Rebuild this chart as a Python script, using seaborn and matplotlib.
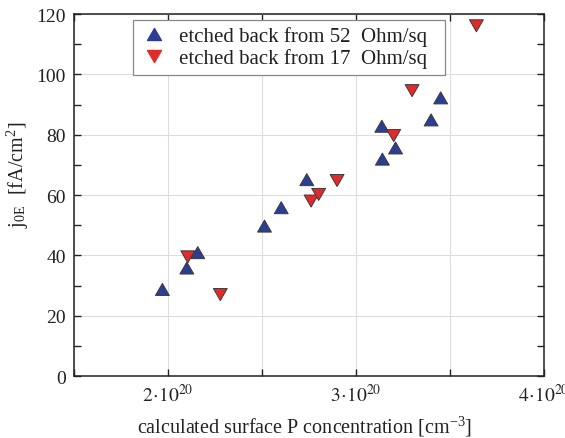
import matplotlib
matplotlib.use("Agg")
import matplotlib.pyplot as plt
from matplotlib.path import Path
from matplotlib.ticker import MultipleLocator, FuncFormatter
import seaborn as sns
import pandas as pd

# Surface concentration [cm^-3] and emitter saturation current density [fA/cm^2]
conc_52 = [1.97e20, 2.10e20, 2.158e20, 2.513e20, 2.602e20, 2.738e20,
           3.137e20, 3.140e20, 3.210e20, 3.399e20, 3.450e20]
j0e_52 = [28.7, 35.8, 40.9, 49.7, 55.8, 65.1, 82.8, 71.9, 75.6, 84.9, 92.2]

conc_17 = [2.105e20, 2.278e20, 2.761e20, 2.801e20, 2.899e20, 3.200e20,
           3.298e20, 3.640e20]
j0e_17 = [39.5, 27.0, 58.0, 60.2, 64.8, 79.7, 94.6, 116.1]

label_52 = "etched back from 52  Ohm/sq"
label_17 = "etched back from 17  Ohm/sq"

df = pd.concat([
    pd.DataFrame({"conc": conc_52, "j0e": j0e_52, "series": label_52}),
    pd.DataFrame({"conc": conc_17, "j0e": j0e_17, "series": label_17}),
], ignore_index=True)

sns.set_theme(style="white")
plt.rcParams["font.family"] = ["Liberation Serif", "DejaVu Serif"]
plt.rcParams["mathtext.fontset"] = "stix"

# equilateral triangles, pointing up and down
h = 0.866
tri_up = Path([(-1, -h), (1, -h), (0, h), (-1, -h)],
              [Path.MOVETO, Path.LINETO, Path.LINETO, Path.CLOSEPOLY])
tri_down = Path([(-1, h), (1, h), (0, -h), (-1, h)],
                [Path.MOVETO, Path.LINETO, Path.LINETO, Path.CLOSEPOLY])

fig = plt.figure(figsize=(5.65, 4.39), dpi=100)
ax = fig.add_axes([0.131, 0.1412, 0.832, 0.8246])

palette = {label_52: "#2c3d94", label_17: "#e22a2b"}
markers = {label_52: tri_up, label_17: tri_down}
sns.scatterplot(data=df, x="conc", y="j0e", hue="series", style="series",
                palette=palette, markers=markers, s=100, edgecolor="#3a3a3a",
                linewidth=0.7, ax=ax, zorder=3, legend=False)

ax.set_xlim(1.5e20, 4.0e20)
ax.set_ylim(0, 120)
ax.xaxis.set_major_locator(MultipleLocator(0.5e20))
ax.yaxis.set_major_locator(MultipleLocator(20))
ax.yaxis.set_minor_locator(MultipleLocator(10))


def conc_fmt(v, pos):
    n = v / 1e20
    if abs(n - round(n)) < 1e-6:
        return r"$%d\!\cdot\!10^{20}$" % round(n)
    return ""


ax.xaxis.set_major_formatter(FuncFormatter(conc_fmt))
ax.tick_params(axis="both", which="both", direction="in", top=True, right=True,
               bottom=True, left=True, length=5, width=1.0, color="#222222",
               labelsize=14, labelcolor="#222222", pad=6)
ax.tick_params(axis="x", which="major", pad=5)
ax.grid(True, which="major", color="#dddddd", linewidth=0.8, zorder=0)
for sp in ax.spines.values():
    sp.set_color("#222222")
    sp.set_linewidth(1.1)

ax.set_xlabel(r"calculated surface P concentration [cm$^{\mathregular{-3}}$]",
              fontsize=14.5, color="#222222")
ax.xaxis.set_label_coords(0.49, -0.105)
ax.set_ylabel(r"j$_{\mathregular{0E}}$  [fA/cm$^{\mathregular{2}}$]",
              fontsize=14.5, color="#222222")
ax.yaxis.set_label_coords(-0.091, 0.558)

handles = [
    plt.Line2D([], [], marker=tri_up, linestyle="none", markersize=10,
               markerfacecolor=palette[label_52], markeredgecolor=palette[label_52]),
    plt.Line2D([], [], marker=tri_down, linestyle="none", markersize=10,
               markerfacecolor=palette[label_17], markeredgecolor=palette[label_17]),
]
leg = ax.legend(handles, [label_52, label_17], loc="upper left",
                bbox_to_anchor=(0.1255, 0.983, 0.664, 0), mode="expand",
                borderaxespad=0, fontsize=15, frameon=True, fancybox=False,
                edgecolor="#888888", framealpha=1, borderpad=0.3,
                handletextpad=0.5, labelspacing=0.1, handlelength=1.4)
leg.get_frame().set_linewidth(0.9)
for t in leg.get_texts():
    t.set_color("#222222")

fig.savefig("out.png", dpi=100)
